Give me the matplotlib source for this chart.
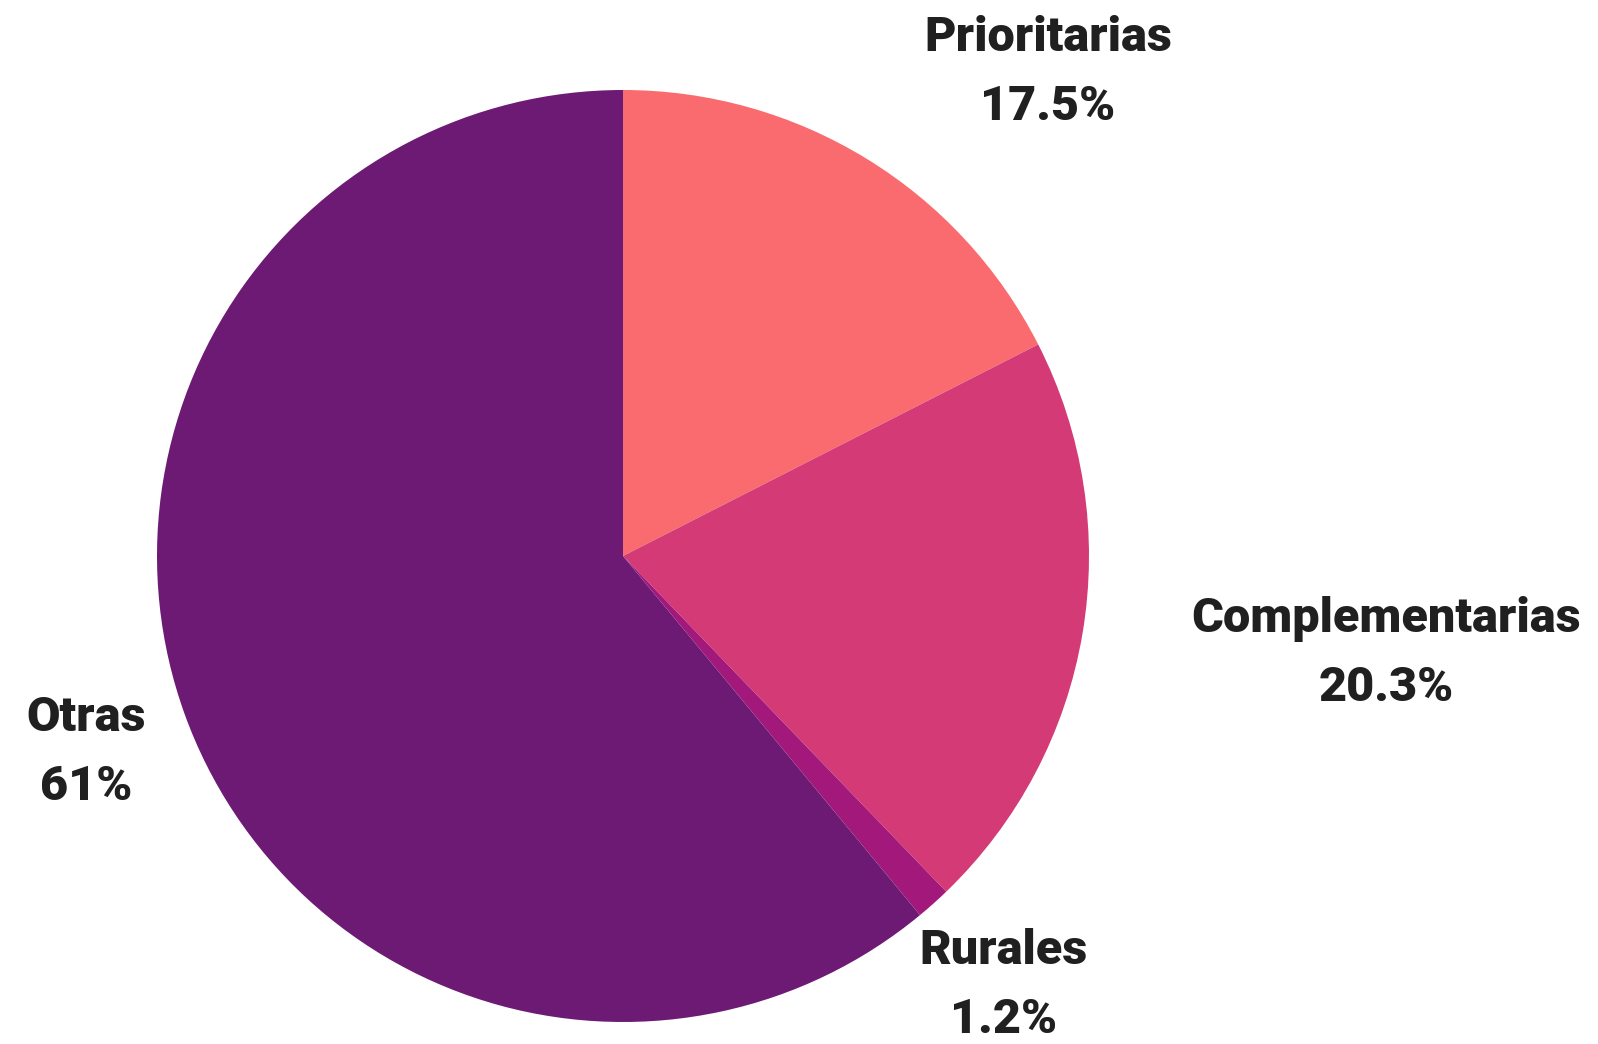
import matplotlib
matplotlib.use("Agg")
import matplotlib.pyplot as plt

categories = ["Prioritarias", "Complementarias", "Rurales", "Otras"]
values = [17.5, 20.3, 1.2, 61]
value_labels = ["17.5%", "20.3%", "1.2%", "61%"]
colors = ["#F96B6F", "#D43A76", "#A3197B", "#6D1A75"]

# label anchor positions (figure pixels, from top-left)
label_pos = [(1048, 38), (1386, 619), (1004, 951), (86, 718)]

W, H = 1598, 1044
fig = plt.figure(figsize=(W / 100, H / 100), dpi=100)
cx, cy, r = 623, 556, 466
ax = fig.add_axes([(cx - r) / W, (H - cy - r) / H, 2 * r / W, 2 * r / H])
ax.pie(values, colors=colors, startangle=90, counterclock=False, radius=1,
       wedgeprops=dict(linewidth=0))
ax.set_xlim(-1, 1)
ax.set_ylim(-1, 1)
ax.set_aspect("equal")
ax.axis("off")

for name, vl, (x, y) in zip(categories, value_labels, label_pos):
    fig.text(x / W, 1 - y / H, name, ha="center", va="center",
             fontsize=35, fontweight="heavy", family=["Roboto", "DejaVu Sans"],
             color="#202020")
    fig.text(x / W, 1 - (y + 69) / H, vl, ha="center", va="center",
             fontsize=35, fontweight="heavy", family=["Roboto", "DejaVu Sans"],
             color="#202020")

fig.savefig("out.png", dpi=100)
